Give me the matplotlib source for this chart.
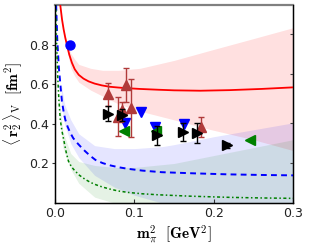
import matplotlib
matplotlib.use("Agg")
import matplotlib.pyplot as plt

plt.rcParams['mathtext.fontset'] = 'cm'
plt.rcParams['font.family'] = ['DejaVu Sans']

# central curves
red_x = [0.0067, 0.009, 0.011, 0.013, 0.015, 0.018, 0.0214, 0.025, 0.030, 0.036, 0.0425, 0.05, 0.059, 0.069, 0.08, 0.09, 0.107, 0.13, 0.15, 0.183, 0.22, 0.26, 0.3]
red_y = [1.0, 0.925, 0.876, 0.835, 0.80, 0.75, 0.708, 0.675, 0.647, 0.628, 0.614, 0.603, 0.594, 0.587, 0.583, 0.580, 0.576, 0.572, 0.569, 0.567, 0.570, 0.576, 0.584]

blue_x = [0.0015, 0.003, 0.005, 0.0088, 0.011, 0.013, 0.016, 0.0193, 0.023, 0.0277, 0.033, 0.038, 0.044, 0.051, 0.06, 0.07, 0.08, 0.092, 0.11, 0.1345, 0.1765, 0.2186, 0.26, 0.3]
blue_y = [1.0, 0.82, 0.68, 0.514, 0.46, 0.422, 0.385, 0.355, 0.328, 0.305, 0.282, 0.262, 0.24, 0.218, 0.202, 0.19, 0.181, 0.173, 0.164, 0.156, 0.150, 0.145, 0.142, 0.140]

green_x = [0.001, 0.002, 0.0035, 0.005, 0.0067, 0.0088, 0.011, 0.014, 0.017, 0.021, 0.0256, 0.031, 0.038, 0.045, 0.052, 0.06, 0.07, 0.08, 0.092, 0.11, 0.13, 0.17, 0.22, 0.26, 0.3]
green_y = [1.0, 0.82, 0.64, 0.52, 0.422, 0.365, 0.321, 0.26, 0.212, 0.182, 0.161, 0.14, 0.12, 0.104, 0.092, 0.081, 0.070, 0.061, 0.054, 0.047, 0.042, 0.035, 0.029, 0.026, 0.024]

# bands
red_bx = [0.012, 0.016, 0.02, 0.025, 0.03, 0.045, 0.06, 0.08, 0.107, 0.15, 0.195, 0.25, 0.3]
red_hi = [0.86, 0.80, 0.755, 0.725, 0.70, 0.68, 0.67, 0.67, 0.68, 0.72, 0.77, 0.83, 0.885]
red_lo = [0.84, 0.76, 0.68, 0.64, 0.61, 0.57, 0.54, 0.50, 0.464, 0.42, 0.372, 0.32, 0.265]

blue_bx = [0.008, 0.012, 0.02, 0.03, 0.05, 0.075, 0.1, 0.135, 0.15, 0.2, 0.25, 0.3]
blue_hi = [0.60, 0.50, 0.42, 0.35, 0.29, 0.275, 0.275, 0.285, 0.295, 0.335, 0.37, 0.405]
blue_lo = [0.50, 0.40, 0.30, 0.23, 0.14, 0.08, 0.04, 0.0, -0.02, -0.06, -0.10, -0.14]

green_bx = [0.005, 0.01, 0.02, 0.03, 0.05, 0.075, 0.1, 0.15, 0.2, 0.25, 0.3]
green_hi = [0.55, 0.36, 0.25, 0.21, 0.19, 0.18, 0.18, 0.20, 0.24, 0.28, 0.32]
green_lo = [0.48, 0.28, 0.17, 0.10, 0.03, 0.0, -0.02, -0.05, -0.08, -0.10, -0.12]

# lattice data
red_px = [0.067, 0.090, 0.0958, 0.079, 0.084, 0.184]
red_py = [0.548, 0.595, 0.481, 0.436, 0.472, 0.385]
red_pe = [0.06, 0.085, 0.147, 0.097, 0.04, 0.05]

blk_px = [0.067, 0.084, 0.129, 0.161, 0.179, 0.2165]
blk_py = [0.452, 0.445, 0.343, 0.358, 0.352, 0.291]
blk_pe = [0.036, 0.03, 0.048, 0.045, 0.05, 0.012]

blu_px = [0.088, 0.109, 0.126, 0.162]
blu_py = [0.405, 0.459, 0.385, 0.397]

grn_px = [0.087, 0.127, 0.246]
grn_py = [0.365, 0.365, 0.318]

circ_x = [0.0193]
circ_y = [0.80]

fig = plt.figure(figsize=(3.25, 2.45), dpi=100)
ax = fig.add_axes([0.169, 0.171, 0.733, 0.809])

ax.fill_between(red_bx, red_lo, red_hi, color='red', alpha=0.12, lw=0)
ax.fill_between(blue_bx, blue_lo, blue_hi, color='blue', alpha=0.10, lw=0)
ax.fill_between(green_bx, green_lo, green_hi, color='green', alpha=0.10, lw=0)

ax.plot(red_x, red_y, color='#ff0000', lw=1.3, zorder=3)
ax.plot(blue_x, blue_y, color='#0000ff', lw=1.4, ls=(0, (3, 2.2)), zorder=3)
ax.plot(green_x, green_y, color='#008000', lw=1.1, ls=(0, (1, 1.6, 2, 1.6)), zorder=3)

ax.errorbar(red_px, red_py, yerr=red_pe, fmt='^', color='#b03a3a', ms=7,
            capsize=2, elinewidth=1, capthick=1, zorder=5)
ax.errorbar(blk_px, blk_py, yerr=blk_pe, fmt='>', color='black', ms=7,
            capsize=2, elinewidth=1, capthick=1, zorder=6)
ax.plot(blu_px, blu_py, 'v', color='#0000ff', ms=6.5, zorder=4)
ax.plot(grn_px, grn_py, '<', color='#008000', ms=6.5, zorder=4)
ax.plot(circ_x, circ_y, 'o', color='#0000ff', ms=6.5, zorder=4)

ax.set_xlim(0, 0.3)
ax.set_ylim(0, 1.0)
ax.set_xticks([0.0, 0.1, 0.2, 0.3])
ax.set_xticklabels(['0.0', '0.1', '0.2', '0.3'])
ax.set_yticks([0.2, 0.4, 0.6, 0.8])
ax.set_yticklabels(['0.2', '0.4', '0.6', '0.8'])
ax.tick_params(axis='x', direction='in', length=3, labelsize=9, pad=3, colors='#333333', labelcolor='#222222')
ax.tick_params(axis='y', direction='out', length=2, labelsize=9, pad=2, colors='#333333', labelcolor='#222222')
for s in ['left', 'bottom', 'right']:
    ax.spines[s].set_linewidth(1.0)
    ax.spines[s].set_color('black')
ax.spines['top'].set_color('#808080')
ax.spines['top'].set_linewidth(1.6)

ax2 = ax.twinx()
ax2.set_ylim(0, 1.0)
ax2.set_yticks([0.2, 0.405, 0.649, 0.851])
ax2.set_yticklabels([])
ax2.tick_params(direction='in', length=2.5, color='#444444')
ax2.spines['top'].set_visible(False)

ax.set_xlabel(r'$\mathbf{m}_{\pi}^{2}\ \ [\mathbf{GeV}^{2}]$', fontsize=11, labelpad=2)
ax.set_ylabel(r'$\langle\,\mathbf{r}_2^2\,\rangle_{\rm V}\ \ [\mathbf{fm}^2]$', fontsize=11, labelpad=4)

fig.savefig('out.png', dpi=100)
